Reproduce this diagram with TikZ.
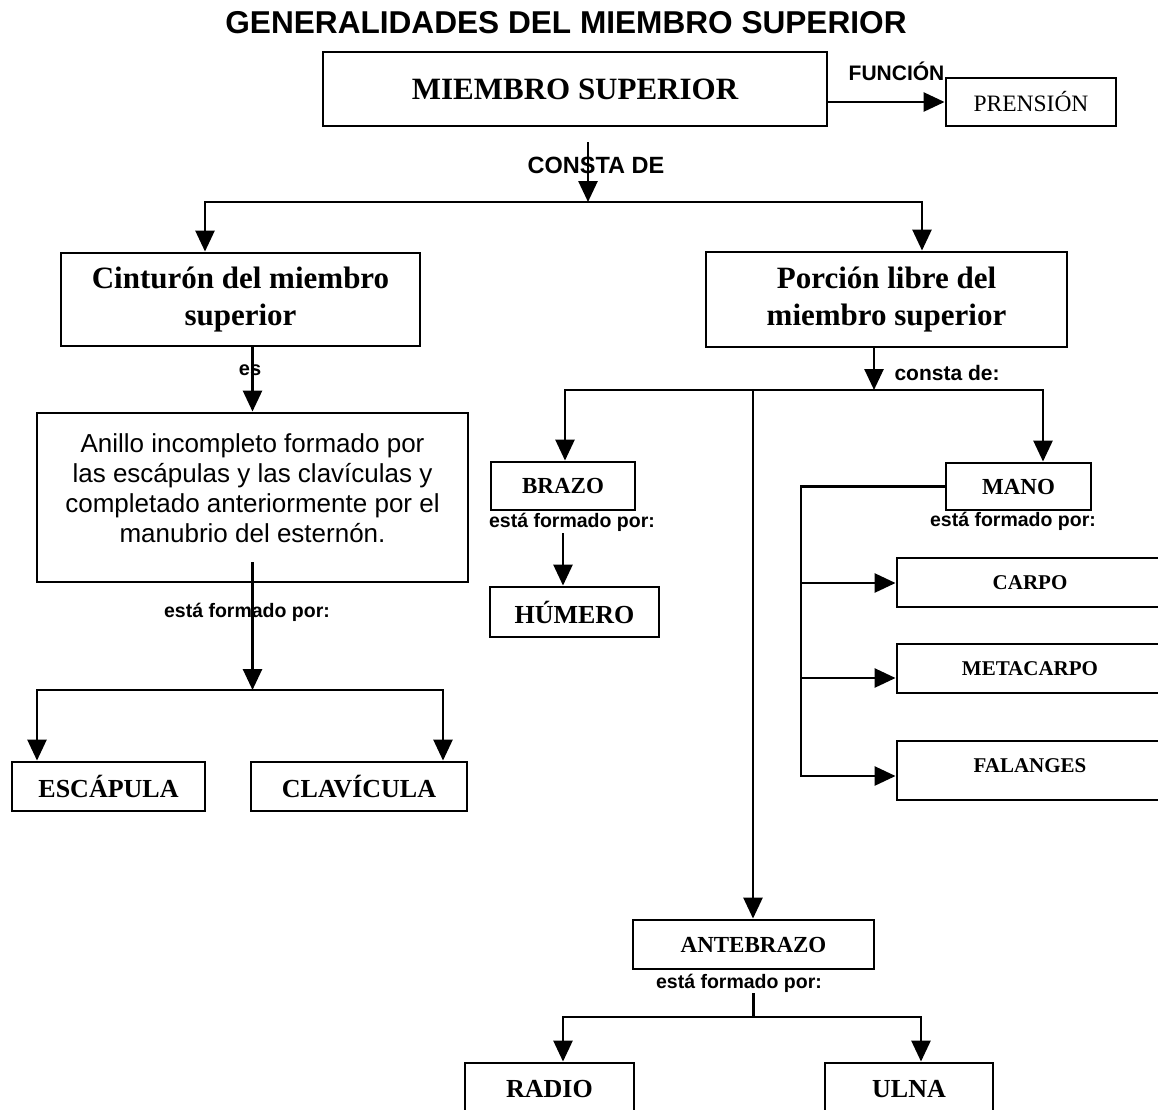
\documentclass[tikz,border=0pt]{standalone}
\usepackage{fontspec}
\setmainfont{Liberation Serif}
\newfontfamily\arialfont{Liberation Sans}
\usetikzlibrary{arrows.meta}
\begin{document}
\begin{tikzpicture}[x=1pt,y=-1pt,
  box/.style={draw, line width=2.9pt, fill=white, inner sep=0pt, align=center},
  bigserif/.style={font=\bfseries\fontsize{31}{37}\selectfont},
  midserif/.style={font=\bfseries\fontsize{23}{27}\selectfont},
  lgserif/.style={font=\bfseries\fontsize{26}{30}\selectfont},
  smserif/.style={font=\bfseries\fontsize{21}{25}\selectfont},
  lbl/.style={inner sep=0pt, font=\arialfont\bfseries\fontsize{19.5}{23}\selectfont},
  conn/.style={line width=2.7pt},
  arrowline/.style={conn, -{Triangle[length=21pt,width=19pt]}},
]
\useasboundingbox (0,0) rectangle (1158,1109);
\clip (0,0) rectangle (1158,1109);
\fill[white] (0,0) rectangle (1158,1109);

% title
\node[inner sep=0pt, font=\arialfont\bfseries\fontsize{31.6}{36}\selectfont] (title) at (566,23) {GENERALIDADES DEL MIEMBRO SUPERIOR};

% boxes
\node[box, bigserif, minimum width=504pt, minimum height=74pt] (top) at (575,89) {MIEMBRO SUPERIOR};
\node[box, font=\fontsize{23.5}{27}\selectfont, minimum width=170pt, minimum height=48pt] (pren) at (1031,102) {PRENSIÓN};
\node[box, bigserif, minimum width=359pt, minimum height=93pt] (cint) at (240.5,299.5) {Cinturón del miembro\\superior};
\node[box, bigserif, minimum width=361pt, minimum height=95pt] (porc) at (886.5,299.5) {Porción libre del\\miembro superior};
\node[box, minimum width=431pt, minimum height=169pt] (anillo) at (252.5,497.5) {};
\node[align=center, inner sep=0pt, font=\arialfont\fontsize{26}{30}\selectfont] (anillotxt) at (252.5,488) {Anillo incompleto formado por\\las escápulas y las clavículas y\\completado anteriormente por el\\manubrio del esternón.};
\node[box, lgserif, minimum width=193pt, minimum height=49pt] (esc) at (108.5,786.5) {ESCÁPULA};
\node[box, lgserif, minimum width=216pt, minimum height=49pt] (clav) at (359,786.5) {CLAVÍCULA};
\node[box, midserif, minimum width=144pt, minimum height=48pt] (brazo) at (563,486) {BRAZO};
\node[box, lgserif, minimum width=169pt, minimum height=50pt] (humero) at (574.5,612) {HÚMERO};
\node[box, midserif, minimum width=145pt, minimum height=47pt] (mano) at (1018.5,486.5) {MANO};
\node[box, smserif, minimum width=266pt, minimum height=49pt] (carpo) at (1030,582.5) {CARPO};
\node[box, smserif, minimum width=266pt, minimum height=49pt] (metacarpo) at (1030,668.5) {METACARPO};
\node[box, smserif, minimum width=266pt, minimum height=59pt] (falanges) at (1030,770.5) {};
\node[smserif, inner sep=0pt] (falangestxt) at (1030,766) {FALANGES};
\node[box, midserif, minimum width=241pt, minimum height=49pt] (antebrazo) at (753.5,944.5) {ANTEBRAZO};
\node[box, lgserif, minimum width=169pt, minimum height=52pt] (radio) at (549.5,1089) {RADIO};
\node[box, lgserif, minimum width=168pt, minimum height=52pt] (ulna) at (909,1089) {ULNA};

% labels
\node[lbl, font=\arialfont\bfseries\fontsize{21}{25}\selectfont] (func) at (896.5,71) {FUNCIÓN};
\node[lbl, font=\arialfont\bfseries\fontsize{23.5}{27}\selectfont] (consta) at (596,165) {CONSTA DE};
\node[lbl, font=\arialfont\bfseries\fontsize{20}{24}\selectfont] (es) at (250,370) {es};
\node[lbl] (est1) at (247,612) {está formado por:};
\node[lbl] (est2) at (572,522) {está formado por:};
\node[lbl] (est3) at (1013,521) {está formado por:};
\node[lbl] (est4) at (739,983) {está formado por:};
\node[lbl, font=\arialfont\bfseries\fontsize{21}{25}\selectfont] (constade) at (947,373) {consta de:};

% connectors
\draw[arrowline] (top.east |- pren.west) -- (pren.west);

\coordinate (c1) at (588,142);
\coordinate (hub) at (588,202);
\coordinate (hL) at (205,202);
\coordinate (hR) at (922,202);
\draw[arrowline] (c1) -- (hub);
\draw[arrowline] (hub) -| (hL |- cint.north);
\draw[arrowline] (hub) -| (hR |- porc.north);

\draw[arrowline] (anillo.north |- cint.south) -- (anillo.north);

\coordinate (a1) at (252.5,562);
\coordinate (hub2) at (252.5,690);
\coordinate (eL) at (37,690);
\coordinate (eR) at (443,690);
\draw[arrowline] (a1) -- (hub2);
\draw[arrowline] (hub2) -| (eL |- esc.north);
\draw[arrowline] (hub2) -| (eR |- clav.north);

\coordinate (hub3) at (874,390);
\coordinate (pL) at (565,390);
\coordinate (pM) at (753,390);
\coordinate (pR) at (1043,390);
\draw[arrowline] (hub3 |- porc.south) -- (hub3);
\draw[arrowline] (hub3) -| (pL |- brazo.north);
\draw[arrowline] (hub3) -| (pR |- mano.north);
\draw[arrowline] (pM) -- (pM |- antebrazo.north);

\coordinate (b1) at (563,533);
\draw[arrowline] (b1) -- (b1 |- humero.north);

\coordinate (m1) at (801,583);
\coordinate (m2) at (801,678);
\coordinate (m3) at (801,776);
\draw[arrowline] (mano.west) -| (m3) -- (m3 -| falanges.west);
\draw[arrowline] (m1) -- (m1 -| carpo.west);
\draw[arrowline] (m2) -- (m2 -| metacarpo.west);

\coordinate (t1) at (753.5,993);
\coordinate (hub4) at (753.5,1017);
\coordinate (rL) at (563,1017);
\coordinate (rR) at (921,1017);
\draw[conn] (t1) -- (hub4);
\draw[arrowline] (hub4) -| (rL |- radio.north);
\draw[arrowline] (hub4) -| (rR |- ulna.north);
\end{tikzpicture}
\end{document}
